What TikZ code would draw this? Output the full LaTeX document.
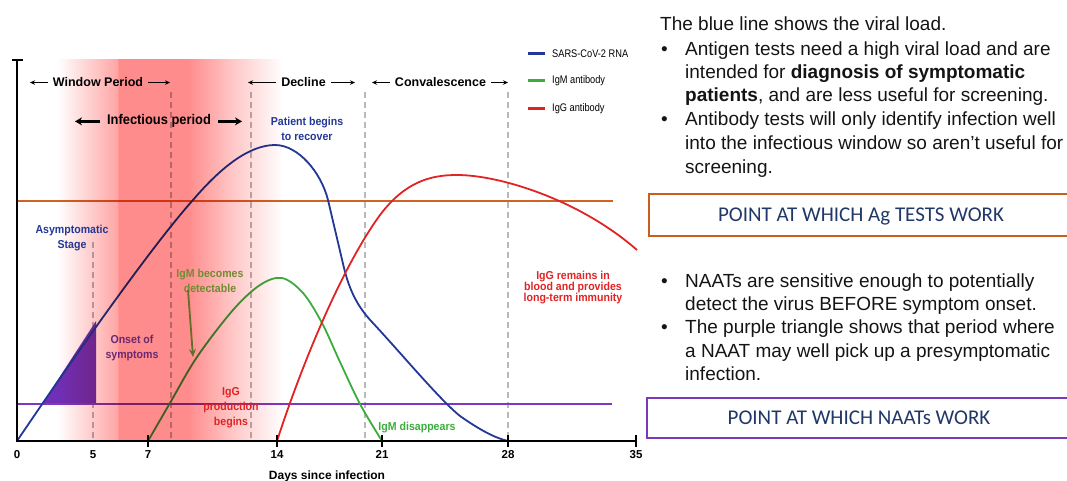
\documentclass[tikz,border=0pt]{standalone}
\usepackage{fontspec}
\setmainfont{Liberation Sans}
\newfontfamily\condfont[FakeStretch=0.92]{Liberation Sans}
\newfontfamily\legfont[FakeStretch=0.84]{Liberation Sans}
\newfontfamily\calfont{Carlito}
\usetikzlibrary{arrows.meta}

\definecolor{rnablue}{RGB}{35,55,150}
\definecolor{igmgreen}{RGB}{60,172,60}
\definecolor{iggred}{RGB}{225,35,35}
\definecolor{olive}{RGB}{112,140,50}
\definecolor{olivearrow}{RGB}{100,110,40}
\definecolor{onsetpurple}{RGB}{105,40,112}
\definecolor{aglinecol}{RGB}{205,100,35}
\definecolor{naatline}{RGB}{125,55,195}
\definecolor{trifill}{RGB}{112,48,182}
\definecolor{dashgrey}{RGB}{185,185,185}
\definecolor{bandfull}{RGB}{255,140,140}
\definecolor{bandlite}{RGB}{255,166,166}
\definecolor{bandfade}{RGB}{255,200,200}
\definecolor{agbox}{RGB}{200,95,30}
\definecolor{naatbox}{RGB}{125,55,185}
\definecolor{boxnavy}{RGB}{32,56,104}
\definecolor{bodytext}{RGB}{20,20,20}

% infectious-window band: soft left edge, strong core, long fade to the right
\pgfdeclarehorizontalshading{redband}{100bp}{color(0bp)=(white); color(25bp)=(white);
  color(38.3bp)=(bandlite); color(38.6bp)=(bandfull); color(54bp)=(bandfull);
  color(64bp)=(bandfade); color(75bp)=(white); color(100bp)=(white)}

\tikzset{
  curve/.style={line width=1.8pt, line join=round},
  guide/.style={dashgrey, line width=1.4pt, dash pattern=on 6pt off 4pt},
  testline/.style={line width=2pt},
  hdr/.style={font=\bfseries\fontsize{12.5}{14}\selectfont, inner xsep=5pt, inner ysep=0pt, anchor=base},
  harrow/.style={line width=0.8pt, -{Stealth[length=5pt,width=4.5pt]}},
  bigarrow/.style={line width=2.6pt, -{Stealth[length=7pt,width=8pt]}},
  lab/.style={font=\condfont\bfseries\fontsize{11.5}{15}\selectfont, align=center, inner sep=0pt},
  legtext/.style={font=\legfont\fontsize{11}{12}\selectfont, anchor=west, inner sep=0pt},
  tick/.style={font=\bfseries\fontsize{11.5}{13}\selectfont, anchor=base, inner sep=0pt},
  body/.style={font=\fontsize{19}{23}\selectfont, text=bodytext, anchor=base west, inner sep=0pt},
  boxtext/.style={font=\calfont\fontsize{21}{24}\selectfont, text=boxnavy, inner sep=0pt},
}

\begin{document}
\begin{tikzpicture}[x=1pt, y=-1pt]
\useasboundingbox (0,0) rectangle (1067,481);

% ---------------- chart ----------------
% phase guides
\draw[guide] (93,242) -- (93,441);
\draw[guide] (171,92) -- (171,441);
\draw[guide] (251,92) -- (251,441);
\draw[guide] (365,92) -- (365,441);
\draw[guide] (508,92) -- (508,441);

% presymptomatic NAAT window
\fill[trifill] (42,404) -- (96,321) -- (96,404) -- cycle;

% detection thresholds
\draw[testline, aglinecol] (17,201) -- (613,201);
\draw[testline, naatline] (17,404) -- (612,404);

% viral RNA: rise, peak near day 14, sharp fall, long tail to day 28
\draw[curve, rnablue] (17,441)
  .. controls (67,367) and (150,248) .. (193,200)
  .. controls (222,166) and (250,145) .. (275,145)
  .. controls (298,145) and (321,172) .. (328,200)
  -- (344,268)
  .. controls (350,292) and (358,307) .. (372,322)
  .. controls (400,352) and (440,400) .. (460,416)
  .. controls (480,430) and (495,438) .. (508,441);
% IgM antibody: rises from day 7, gone by day 21
\draw[curve, igmgreen] plot[smooth, tension=0.55] coordinates {(148,441) (170,403) (197,357) (233,310) (260,285) (282,278) (303,293) (322,323) (340,362) (360,404) (382,441)};
% IgG antibody: rises from day 14 and stays high
\draw[curve, iggred] (277,441)
  .. controls (300,370) and (340,270) .. (380,215)
  .. controls (405,182) and (430,175) .. (457,175)
  .. controls (500,175) and (580,200) .. (637,250);

% phase headers
\node[hdr] (wp) at (98,87) {Window Period};
\node[hdr] (dec) at (303.5,87) {Decline};
\node[hdr] (conv) at (440.5,87) {Convalescence};
\coordinate (wpL) at (30,82);  \coordinate (wpR) at (170,82);
\coordinate (decL) at (248,82); \coordinate (decR) at (355,82);
\coordinate (convL) at (372,82); \coordinate (convR) at (508,82);
\draw[harrow] (wp.west) -- (wp.west -| wpL);
\draw[harrow] (wp.east) -- (wp.east -| wpR);
\draw[harrow] (dec.west) -- (dec.west -| decL);
\draw[harrow] (dec.east) -- (dec.east -| decR);
\draw[harrow] (conv.west) -- (conv.west -| convL);
\draw[harrow] (conv.east) -- (conv.east -| convR);

\node[font=\condfont\bfseries\fontsize{14}{16}\selectfont, anchor=base, inner xsep=7pt, inner ysep=0pt] (inf) at (159,125) {Infectious period};
\coordinate (infL) at (75,120); \coordinate (infR) at (242,120);
\draw[bigarrow] (inf.west) -- (inf.west -| infL);
\draw[bigarrow] (inf.east) -- (inf.east -| infR);

% legend
\coordinate (lg1) at (528,54); \coordinate (lg2) at (528,81); \coordinate (lg3) at (528,109);
\draw[line width=3pt, rnablue] (lg1) -- ++(17,0);
\draw[line width=3pt, igmgreen] (lg2) -- ++(17,0);
\draw[line width=3pt, iggred] (lg3) -- ++(17,0);
\node[legtext] (lt1) at (552,54) {SARS-CoV-2 RNA};
\node[legtext] (lt2) at (552,81) {IgM antibody};
\node[legtext] (lt3) at (552,109) {IgG antibody};

% infectious band tints everything beneath it
\begin{scope}[blend mode=multiply]
  \shade[shading=redband] (57,60) rectangle (283,441);
\end{scope}

% annotations
\node[lab, text=rnablue] (asym) at (72,238) {Asymptomatic\\Stage};
\node[lab, text=rnablue] (recov) at (307,129) {Patient begins\\to recover};
\node[lab, text=onsetpurple] (onset) at (132,348) {Onset of\\symptoms};
\node[lab, text=olive] (igmdet) at (210,281) {IgM becomes\\detectable};
\node[lab, text=iggred] (iggprod) at (231,408) {IgG\\production\\begins};
\node[lab, text=igmgreen] (igmgone) at (417,428) {IgM disappears};
\node[lab, text=iggred, font=\condfont\bfseries\fontsize{11.5}{11}\selectfont] (iggstay) at (573,288) {IgG remains in\\blood and provides\\long-term immunity};
\coordinate (oaEnd) at (193,357);
\draw[olivearrow, line width=1.8pt, -{Stealth[length=8pt,width=7pt]}] ([xshift=-22pt,yshift=3pt]igmdet.south) -- (oaEnd);

% axes
\draw[line width=2pt] (17,441) -- (17,60);
\draw[line width=2pt] (12,60) -- (23,60);
\draw[line width=2pt] (16,441) -- (637,441);
\foreach \xx in {148,277,382,508,636}
  \draw[line width=2pt] (\xx,435) -- (\xx,447);
\node[tick] (t0) at (17,458) {0};
\node[tick] (t5) at (93,458) {5};
\node[tick] (t7) at (148,458) {7};
\node[tick] (t14) at (277,458) {14};
\node[tick] (t21) at (382,458) {21};
\node[tick] (t28) at (508,458) {28};
\node[tick] (t35) at (636,458) {35};
\node[tick, font=\bfseries\fontsize{12}{14}\selectfont] (xlab) at (327,479) {Days since infection};

% ---------------- explanatory text ----------------
\node[body] (l1) at (660,31) {The blue line shows the viral load.};
\node[body] (b1) at (661,56) {•};
\node[body] (l2) at (685,56) {Antigen tests need a high viral load and are};
\node[body] (l3) at (685,79) {intended for \textbf{diagnosis of symptomatic}};
\node[body] (l4) at (685,102) {\textbf{patients}, and are less useful for screening.};
\node[body] (b2) at (661,126) {•};
\node[body] (l5) at (685,126) {Antibody tests will only identify infection well};
\node[body] (l6) at (685,150) {into the infectious window so aren’t useful for};
\node[body] (l7) at (685,174) {screening.};

\draw[agbox, line width=2.6pt] (649,194) rectangle (1080,236);
\node[boxtext] (agtxt) at (861,216) {POINT AT WHICH Ag TESTS WORK};

\node[body] (b3) at (661,287) {•};
\node[body] (m1) at (685,287) {NAATs are sensitive enough to potentially};
\node[body] (m2) at (685,310) {detect the virus BEFORE symptom onset.};
\node[body] (b4) at (661,333) {•};
\node[body] (m3) at (685,333) {The purple triangle shows that period where};
\node[body] (m4) at (685,357) {a NAAT may well pick up a presymptomatic};
\node[body] (m5) at (685,380) {infection.};

\draw[naatbox, line width=2.6pt] (647,398) rectangle (1080,438);
\node[boxtext] (naattxt) at (859,418) {POINT AT WHICH NAATs WORK};
\end{tikzpicture}
\end{document}
